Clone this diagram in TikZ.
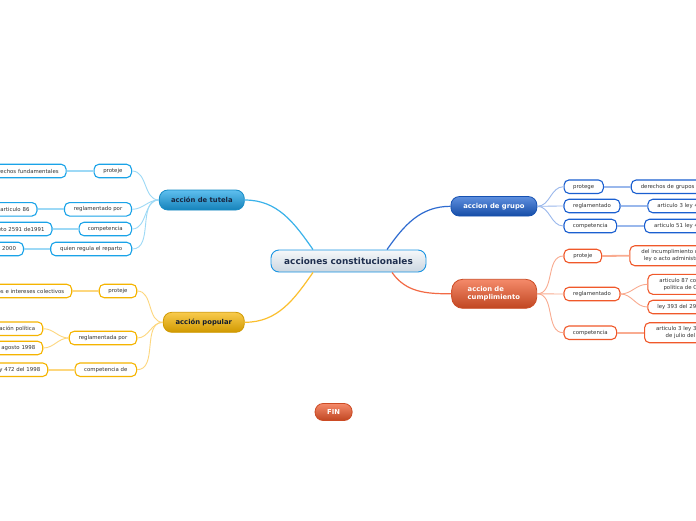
\documentclass[tikz,border=0pt]{standalone}
\usepackage{fontspec}
\setmainfont{DejaVu Sans}
\definecolor{tutB}{HTML}{1AA3E8}
\definecolor{tutL}{HTML}{9DD9F6}
\definecolor{tutM}{HTML}{3AB2EA}
\definecolor{popB}{HTML}{F5B400}
\definecolor{popL}{HTML}{FDD77E}
\definecolor{popM}{HTML}{FBBF2E}
\definecolor{gruB}{HTML}{1A5FD0}
\definecolor{gruL}{HTML}{9AB8EC}
\definecolor{gruM}{HTML}{2E6BD0}
\definecolor{cumB}{HTML}{F0582A}
\definecolor{cumL}{HTML}{F9AB90}
\definecolor{cumM}{HTML}{F26A45}
\definecolor{leaftext}{HTML}{333333}
\definecolor{navy}{HTML}{1F2F4F}
\definecolor{ctrtop}{HTML}{F6F8FA}
\definecolor{ctrbot}{HTML}{CBD6E0}
\tikzset{
  leaf/.style={draw, line width=1.1pt, rounded corners=5pt, fill=white, minimum height=13.5pt,
    inner ysep=0pt, inner xsep=0pt, font=\fontsize{5.4}{6.6}\selectfont, text=leaftext},
  lT/.style={leaf, draw=tutB}, lP/.style={leaf, draw=popB},
  lG/.style={leaf, draw=gruB}, lC/.style={leaf, draw=cumB},
  gleft/.style={anchor=east, text width=150pt, align=right, inner xsep=7.5pt},
  gright/.style={anchor=west, text width=150pt, align=left, inner xsep=9.5pt},
  gright2/.style={anchor=west, align=center, inner xsep=11.5pt, minimum height=20pt},
  mainbox/.style={draw, line width=0.8pt, rounded corners=8.5pt, inner sep=0pt,
    font=\fontsize{6.8}{8.2}\selectfont\bfseries},
  mT/.style={mainbox, draw=tutB!85!black, top color=tutB!70!white, middle color=tutB, bottom color=tutB!80!black, text=navy!80!black},
  mP/.style={mainbox, draw=popB!85!black, top color=popB!70!white, middle color=popB, bottom color=popB!85!black, text=navy!60!black},
  mG/.style={mainbox, draw=gruB!85!black, top color=gruB!70!white, middle color=gruB, bottom color=gruB!80!black, text=white},
  mC/.style={mainbox, draw=cumB!85!black, top color=cumB!70!white, middle color=cumB, bottom color=cumB!80!black, text=white},
  ctrbox/.style={draw=tutB!80!gruB, line width=0.9pt, rounded corners=8pt, inner sep=0pt,
    top color=ctrtop, bottom color=ctrbot, text=navy,
    font=\fontsize{8.9}{10}\selectfont\bfseries, minimum width=155pt, minimum height=22pt},
  cT/.style={draw=tutL, line width=0.9pt}, cP/.style={draw=popL, line width=0.9pt},
  cG/.style={draw=gruL, line width=0.9pt}, cC/.style={draw=cumL, line width=0.9pt},
  gT/.style={draw=tutL, line width=1.8pt}, gP/.style={draw=popL, line width=1.8pt},
  gG/.style={draw=gruL, line width=1.8pt}, gC/.style={draw=cumL, line width=1.8pt},
  mlT/.style={draw=tutM, line width=1.2pt}, mlP/.style={draw=popM, line width=1.2pt},
  mlG/.style={draw=gruM, line width=1.2pt}, mlC/.style={draw=cumM, line width=1.2pt},
}
\begin{document}
\begin{tikzpicture}[x=1pt,y=1pt]
\useasboundingbox (0,0) rectangle (696,-520);
\fill[white] (0,0) rectangle (696,-520);
\clip (0,0) rectangle (696,-520);

% center
\node[ctrbox] (ctr) at (348.5,-261) {acciones constitucionales};

% main nodes
\node[mT, minimum width=85pt, minimum height=20pt] (tut) at (201.8,-200) {acción de tutela};
\node[mP, minimum width=81pt, minimum height=20pt] (pop) at (203.8,-322.3) {acción popular};
\node[mG, minimum width=86pt, minimum height=19.5pt] (gru) at (493.9,-206.3) {accion de grupo};
\node[mC, rounded corners=11pt, text width=53pt, align=left, inner xsep=16pt, minimum height=29pt] (cum) at (494.2,-293.8) {accion de\\cumplimiento};
\node[mC, rounded corners=8pt, minimum width=37pt, minimum height=17pt] (fin) at (333.6,-412) {FIN};

% main connectors
\draw[mlT] (tut.east) to[out=0,in=125] ([xshift=-35.5pt]ctr.north);
\draw[mlP] (pop.east) to[out=0,in=-125] ([xshift=-35.5pt]ctr.south);
\draw[mlG] (gru.west) to[out=180,in=55] ([xshift=38.5pt]ctr.north);
\draw[mlC] (cum.west) to[out=180,in=-55] ([xshift=43.5pt]ctr.south);

% ---- tutela
\node[lT, minimum width=37.5pt] (t1) at (112.8,-171) {proteje};
\node[lT, minimum width=67pt] (t2) at (98,-209.3) {reglamentado por};
\node[lT, minimum width=52.5pt] (t3) at (105.3,-229) {competencia};
\node[lT, minimum width=81pt] (t4) at (91.2,-249) {quien regula el reparto};
\node[lT, gleft] (t1g) at (66.7,-171) {derechos fundamentales};
\node[lT, gleft] (t2g) at (37.5,-209.3) {articulo 86};
\node[lT, gleft] (t3g) at (52.5,-229) {decreto 2591 de1991};
\node[lT, gleft] (t4g) at (24,-249) {2000};
\foreach \c in {t1,t2,t3,t4} {\draw[cT] (tut.west) to[out=180,in=0] (\c.east);}
\foreach \c in {t1,t2,t3,t4} {\draw[gT] (\c.west) -- (\c g.east);}

% ---- popular
\node[lP, minimum width=37.5pt] (p1) at (118,-291) {proteje};
\node[lP, minimum width=67.5pt] (p2) at (103,-338) {reglamentada por};
\node[lP, minimum width=61.5pt] (p3) at (105.8,-369.7) {competencia de};
\node[lP, gleft] (p1g) at (72.3,-291) {derechos e intereses colectivos};
\node[lP, gleft] (p2a) at (43.3,-328.7) {ación política};
\node[lP, gleft] (p2b) at (43.3,-348) {agosto 1998};
\node[lP, gleft] (p3g) at (48.3,-369.7) {ley 472 del 1998};
\foreach \c in {p1,p2,p3} {\draw[cP] (pop.west) to[out=180,in=0] (\c.east);}
\draw[gP] (p1.west) -- (p1g.east);
\draw[cP] (p2.west) to[out=180,in=0] (p2a.east);
\draw[cP] (p2.west) to[out=180,in=0] (p2b.east);
\draw[gP] (p3.west) -- (p3g.east);

% ---- grupo
\node[lG, minimum width=39.3pt] (g1) at (583.7,-186.7) {protege};
\node[lG, minimum width=56pt] (g2) at (592,-206) {reglamentado};
\node[lG, minimum width=52.7pt] (g3) at (590.3,-226) {competencia};
\node[lG, gright] (g1g) at (630.7,-186.7) {derechos de grupos};
\node[lG, gright] (g2g) at (647.3,-206) {articulo 3 ley 472};
\node[lG, gright] (g3g) at (644,-226) {articulo 51 ley 472};
\foreach \c in {g1,g2,g3} {\draw[cG] (gru.east) to[out=0,in=180] (\c.west);}
\foreach \c in {g1,g2,g3} {\draw[gG] (\c.east) -- (\c g.west);}

% ---- cumplimiento
\node[lC, minimum width=37.7pt] (c1) at (582.8,-256) {proteje};
\node[lC, minimum width=56pt] (c2) at (592,-294) {reglamentado};
\node[lC, minimum width=52.7pt] (c3) at (590.3,-332.7) {competencia};
\node[lC, gright2] (c1g) at (629.3,-255.7) {del incumplimiento de una\\ley o acto administrativo};
\node[lC, gright2] (c2a) at (647.3,-284.3) {articulo 87 constitucion\\politica de Colombia};
\node[lC, gright, inner xsep=9.5pt] (c2b) at (647.3,-307) {ley 393 del 29 de julio de 1997};
\node[lC, gright2] (c3g) at (644,-332.7) {articulo 3 ley 393 de 29\\de julio del 1997};
\foreach \c in {c1,c2,c3} {\draw[cC] (cum.east) to[out=0,in=180] (\c.west);}
\draw[gC] (c1.east) -- (c1g.west);
\draw[cC] (c2.east) to[out=0,in=180] (c2a.west);
\draw[cC] (c2.east) to[out=0,in=180] (c2b.west);
\draw[gC] (c3.east) -- (c3g.west);
\end{tikzpicture}
\end{document}
